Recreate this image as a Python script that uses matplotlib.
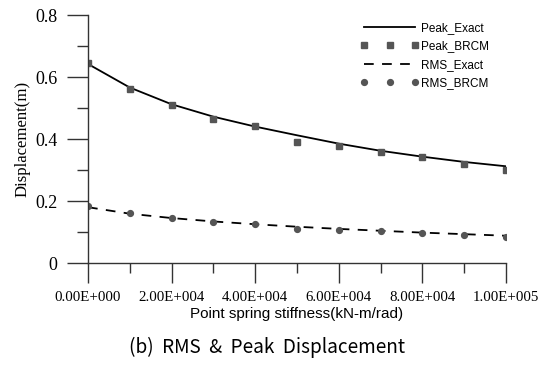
import numpy as np
import matplotlib
matplotlib.use("Agg")
import matplotlib.pyplot as plt
from matplotlib.ticker import FixedLocator

# Point spring stiffness (kN-m/rad)
stiffness = [0, 1e4, 2e4, 3e4, 4e4, 5e4, 6e4, 7e4, 8e4, 9e4, 1e5]

# Displacement (m)
peak_exact = [0.642, 0.566, 0.512, 0.472, 0.440, 0.412, 0.385, 0.362, 0.343, 0.326, 0.312]
peak_brcm = [0.645, 0.560, 0.509, 0.466, 0.443, 0.389, 0.376, 0.358, 0.342, 0.318, 0.300]
rms_exact = [0.180, 0.159, 0.145, 0.134, 0.125, 0.117, 0.110, 0.104, 0.098, 0.093, 0.088]
rms_brcm = [0.183, 0.160, 0.144, 0.133, 0.127, 0.110, 0.107, 0.102, 0.097, 0.090, 0.084]

x_major = [0, 2e4, 4e4, 6e4, 8e4, 1e5]
x_minor = [1e4, 3e4, 5e4, 7e4, 9e4]
x_labels = ["0.00E+000", "2.00E+004", "4.00E+004", "6.00E+004", "8.00E+004", "1.00E+005"]
y_major = [0, 0.2, 0.4, 0.6, 0.8]
y_minor = [0.1, 0.3, 0.5, 0.7]
y_labels = ["0", "0.2", "0.4", "0.6", "0.8"]

plt.rcParams["lines.scale_dashes"] = False

fig = plt.figure(figsize=(5.5, 3.66), dpi=100)
ax = fig.add_axes([88 / 550, 1 - 263 / 366, (506 - 88) / 550, (263 - 15) / 366])

mark_c = "#555555"
ax.plot(stiffness, peak_exact, color="black", lw=1.3, label="Peak_Exact")
ax.plot(stiffness, peak_brcm, ls="none", marker="s", ms=4.3, color=mark_c,
        label="Peak_BRCM")
ax.plot(stiffness, rms_exact, color="black", lw=1.3, dashes=(7, 6),
        label="RMS_Exact")
ax.plot(stiffness, rms_brcm, ls="none", marker="o", ms=4.2, color=mark_c,
        label="RMS_BRCM")

ax.set_xlim(0, 1e5)
ax.set_ylim(0, 0.8)
for s in ("top", "right"):
    ax.spines[s].set_visible(False)
for s in ("left", "bottom"):
    ax.spines[s].set_color("#333333")
    ax.spines[s].set_linewidth(1.0)

ax.xaxis.set_major_locator(FixedLocator(x_major))
ax.set_xticklabels(x_labels)
ax.xaxis.set_minor_locator(FixedLocator(x_minor))
ax.yaxis.set_major_locator(FixedLocator(y_major))
ax.set_yticklabels(y_labels)
ax.yaxis.set_minor_locator(FixedLocator(y_minor))

ax.tick_params(axis="x", which="major", direction="out", length=14.4, width=1.0,
               color="#333333", pad=6)
ax.tick_params(axis="x", which="minor", direction="out", length=7.5, width=1.0,
               color="#333333")
ax.tick_params(axis="y", which="major", direction="out", length=15, width=1.0,
               color="#333333", pad=7)
ax.tick_params(axis="y", which="minor", direction="out", length=8, width=1.0,
               color="#333333")

for lbl in ax.get_xticklabels():
    lbl.set_fontfamily("Liberation Serif")
    lbl.set_fontsize(10.7)
for lbl in ax.get_yticklabels():
    lbl.set_fontfamily("Liberation Serif")
    lbl.set_fontsize(13)

ax.set_ylabel("Displacement(m)", fontfamily="Liberation Serif", fontsize=12.1,
              labelpad=3)
ax.set_xlabel("Point spring stiffness(kN-m/rad)", fontfamily="Liberation Sans",
              fontsize=11, labelpad=2)

fig.text(0.5 * (128 + 406) / 550, 1 - 347 / 366, "(b)  RMS  &  Peak  Displacement",
         ha="center", va="center", fontsize=13.7,
         fontfamily=["Noto Sans CJK KR", "DejaVu Sans"])

ax.legend(loc="upper left", bbox_to_anchor=(360 / 550, 1 - 22 / 366),
          bbox_transform=fig.transFigure, frameon=False, numpoints=3,
          borderpad=0, borderaxespad=0, handlelength=5.0, handletextpad=0.15,
          labelspacing=0.55, prop={"family": "Liberation Sans", "size": 8.5})

fig.savefig("out.png", dpi=100)
